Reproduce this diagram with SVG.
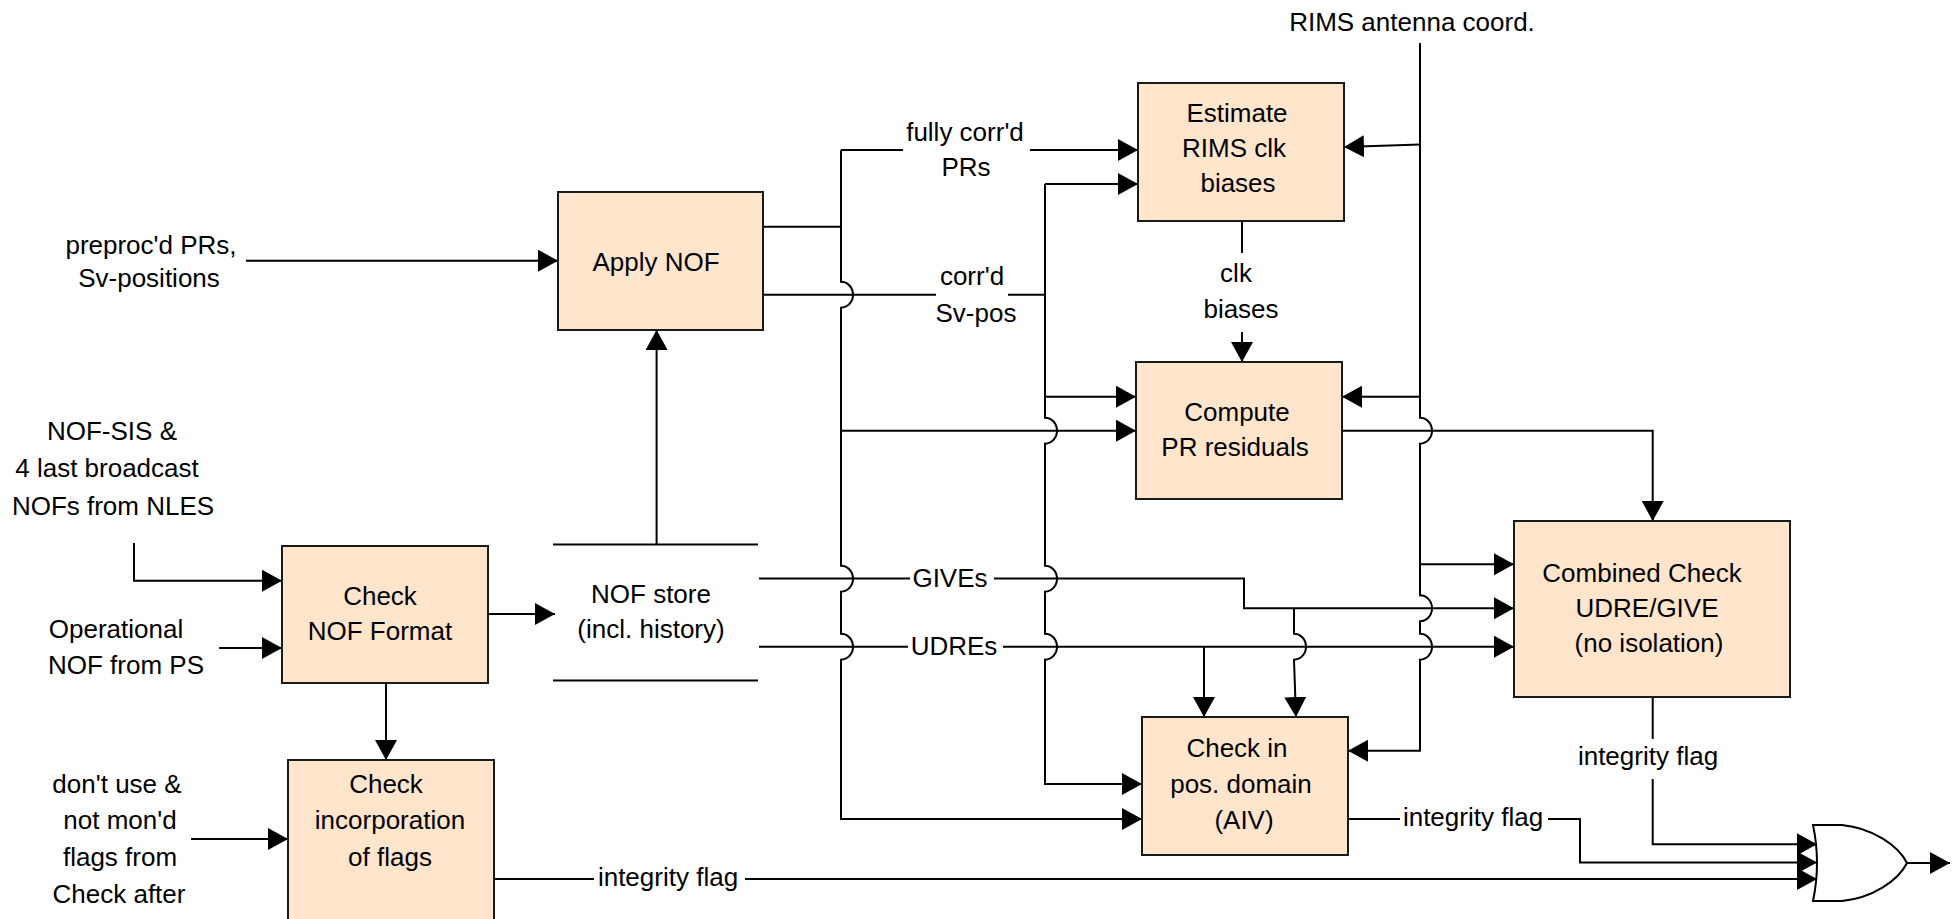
<svg xmlns="http://www.w3.org/2000/svg" width="1955" height="919" viewBox="0 0 1955 919">
<style>
.box{fill:#FFE5CC;stroke:#1a1a1a;stroke-width:2}
.ln{fill:none;stroke:#000;stroke-width:2}
.ar{fill:none;stroke:#000;stroke-width:2;marker-end:url(#ah)}
text{font-family:"Liberation Sans",Arial,sans-serif;font-size:26px;fill:#000;text-anchor:middle}
</style>
<defs>
<marker id="ah" markerUnits="userSpaceOnUse" markerWidth="21" markerHeight="22" refX="20" refY="11" orient="auto" viewBox="0 0 21 22">
<path d="M0,0 L20,11 L0,22 z" fill="#000"/>
</marker>
</defs>
<rect width="1955" height="919" fill="#fff"/>

<g id="connectors">
<!-- inputs -->
<path class="ar" d="M246,260.7 H558"/>
<path class="ar" d="M134,543 V580.7 H282"/>
<path class="ar" d="M219,648 H282"/>
<path class="ar" d="M191,839 H288"/>
<path class="ar" d="M488,614 H555"/>
<path class="ar" d="M386,683 V760"/>
<path class="ar" d="M656.6,544.5 V330"/>
<!-- apply outputs -->
<path class="ln" d="M763,226.7 H841"/>
<path class="ln" d="M841,150 H903"/>
<path class="ar" d="M1030,150 H1138"/>
<path class="ln" d="M763,294.7 H936"/>
<path class="ln" d="M1008,294.7 H1045"/>
<!-- vertical x=841 -->
<path class="ar" d="M841,150 V281.7 a12,13 0 0 1 0,26 V565.7 a12,13 0 0 1 0,26 V633.7 a12,13 0 0 1 0,26 V819 H1142"/>
<path class="ar" d="M841,430.7 H1136"/>
<!-- vertical x=1045 -->
<path class="ar" d="M1045,184 H1138"/>
<path class="ar" d="M1045,184 V417.7 a12,13 0 0 1 0,26 V565.7 a12,13 0 0 1 0,26 V633.7 a12,13 0 0 1 0,26 V784 H1142"/>
<path class="ar" d="M1045,396.7 H1136"/>
<!-- clk biases -->
<path class="ln" d="M1242,221 V253"/>
<path class="ar" d="M1242,332 V362"/>
<!-- RIMS antenna line -->
<path class="ar" d="M1420,43 V417.7 a12,13 0 0 1 0,26 V595.3 a12,13 0 0 1 0,26 V633.7 a12,13 0 0 1 0,26 V750.7 H1348"/>
<path class="ar" d="M1420,144.5 L1344,147"/>
<path class="ar" d="M1420,396.7 H1342"/>
<path class="ar" d="M1420,564.3 H1514"/>
<!-- compute output -->
<path class="ar" d="M1342,430.7 H1652.7 V521"/>
<!-- GIVEs / UDREs -->
<path class="ln" d="M759,578.5 H910"/>
<path class="ar" d="M994,578.5 H1244 V608.3 H1514"/>
<path class="ln" d="M759,646.7 H908"/>
<path class="ar" d="M1003,646.7 H1514"/>
<path class="ar" d="M1294,608.3 V633.7 a12,13 0 0 1 0,26 L1296,717"/>
<path class="ar" d="M1204,646.7 V717"/>
<!-- integrity flags -->
<path class="ln" d="M1652.7,697 V739"/>
<path class="ar" d="M1652.7,779 V844.3 H1817"/>
<path class="ln" d="M1348,819 H1400"/>
<path class="ar" d="M1548,819 H1580 V862.5 H1817"/>
<path class="ln" d="M494,879 H594"/>
<path class="ar" d="M745,879 H1817"/>
<path class="ar" d="M1907,863 H1950"/>
<!-- connector labels -->
<text x="965" y="141">fully corr'd</text>
<text x="966" y="176">PRs</text>
<text x="972" y="285">corr'd</text>
<text x="976" y="322">Sv-pos</text>
<text x="1236" y="282">clk</text>
<text x="1241" y="318">biases</text>
<text x="950" y="587">GIVEs</text>
<text x="954" y="655">UDREs</text>
<text x="668" y="886">integrity flag</text>
<text x="1473" y="826">integrity flag</text>
<text x="1648" y="765">integrity flag</text>
</g>

<g id="inputs">
<text x="1412" y="31">RIMS antenna coord.</text>
<text x="151" y="254">preproc'd PRs,</text>
<text x="149" y="287">Sv-positions</text>
<text x="112" y="440">NOF-SIS &amp;</text>
<text x="107" y="477">4 last broadcast</text>
<text x="113" y="515">NOFs from NLES</text>
<text x="116" y="638">Operational</text>
<text x="126" y="674">NOF from PS</text>
<text x="117" y="793">don't use &amp;</text>
<text x="120" y="829">not mon'd</text>
<text x="120" y="866">flags from</text>
<text x="119" y="903">Check after</text>
</g>

<g id="apply-nof">
<rect class="box" x="558" y="192" width="205" height="138"/>
<text x="656" y="271">Apply NOF</text>
</g>

<g id="estimate-clk">
<rect class="box" x="1138" y="83" width="206" height="138"/>
<text x="1237" y="122">Estimate</text>
<text x="1234" y="157">RIMS clk</text>
<text x="1238" y="192">biases</text>
</g>

<g id="compute-residuals">
<rect class="box" x="1136" y="362" width="206" height="137"/>
<text x="1237" y="421">Compute</text>
<text x="1235" y="456">PR residuals</text>
</g>

<g id="check-nof-format">
<rect class="box" x="282" y="546" width="206" height="137"/>
<text x="380" y="605">Check</text>
<text x="380" y="640">NOF Format</text>
</g>

<g id="nof-store">
<path class="ln" d="M553,544.5 H758 M553,680.5 H758"/>
<text x="651" y="603">NOF store</text>
<text x="651" y="638">(incl. history)</text>
</g>

<g id="check-incorporation">
<rect class="box" x="288" y="760" width="206" height="175"/>
<text x="386" y="793">Check</text>
<text x="390" y="829">incorporation</text>
<text x="390" y="866">of flags</text>
</g>

<g id="check-pos-domain">
<rect class="box" x="1142" y="717" width="206" height="138"/>
<text x="1237" y="757">Check in</text>
<text x="1241" y="793">pos. domain</text>
<text x="1244" y="829">(AIV)</text>
</g>

<g id="combined-check">
<rect class="box" x="1514" y="521" width="276" height="176"/>
<text x="1642" y="582">Combined Check</text>
<text x="1647" y="617">UDRE/GIVE</text>
<text x="1649" y="652">(no isolation)</text>
</g>

<g id="or-gate">
<path d="M1813,825 H1842 C1872,828 1898,845 1907,863 C1898,881 1872,898 1842,901 H1813 Q1821,863 1813,825 Z" fill="#fff" stroke="#000" stroke-width="2"/>
</g>
</svg>
